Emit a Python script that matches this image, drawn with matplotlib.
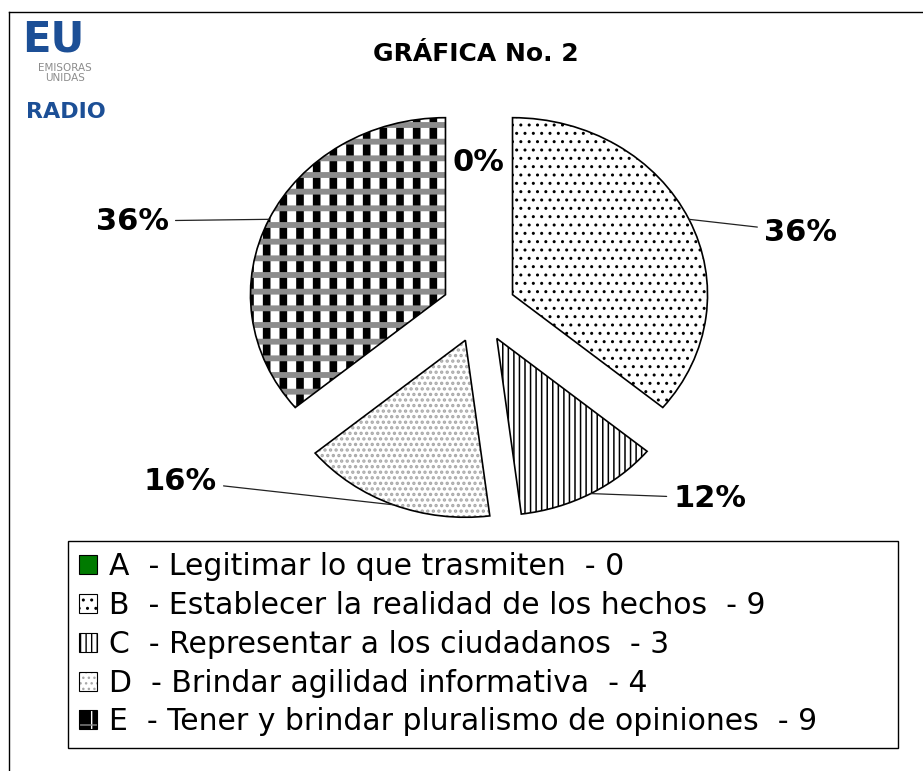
import matplotlib
matplotlib.use('Agg')
import matplotlib.pyplot as plt
from matplotlib.patches import Wedge, Patch
from matplotlib.lines import Line2D
from matplotlib.legend_handler import HandlerTuple
import numpy as np

# ---------------- data ----------------
title = 'GRÁFICA No. 2'
categories = ['A', 'B', 'C', 'D', 'E']
descriptions = ['Legitimar lo que trasmiten',
                'Establecer la realidad de los hechos',
                'Representar a los ciudadanos',
                'Brindar agilidad informativa',
                'Tener y brindar pluralismo de opiniones']
counts = [0, 9, 3, 4, 9]

# ---------------- layout / style ----------------
W, H = 923, 771
CX, CY = 479, 309          # pie centre (px)
RX, RY = 195, 177          # radius in px (horizontal / vertical)
EXPLODE = 0.19

# label positions in axis units (pie radius = 1)
label_pos = [(-0.005, 0.83), (1.65, 0.435), (1.185, -1.068),
             (-1.533, -0.972), (-1.779, 0.497)]
leader = [False, True, True, True, True]

# layer styles per slice: (base facecolor, [(hatch, color, hatch lw), ...])
styles = [
    ('#007a00', []),
    ('white', [('..', 'black', 1.0)]),
    ('white', [('|||', 'black', 1.1)]),
    ('white', [('...', '#a8a8a8', 1.6)]),
    ('black', [('|', 'white', 6.5), ('-', '#8c8c8c', 4.2)]),
]

fig = plt.figure(figsize=(W / 100, H / 100), dpi=100)
ax = fig.add_axes([0, 0, 1, 1])

total = sum(counts)
wedges, _ = ax.pie(counts, explode=[EXPLODE] * len(counts), startangle=90,
                   counterclock=False, radius=1, center=(0, 0),
                   wedgeprops=dict(facecolor='none', edgecolor='black',
                                   linewidth=1.2))
ax.set_aspect('auto')
ax.set_xlim(-CX / RX, (W - CX) / RX)
ax.set_ylim(-(H - CY) / RY, CY / RY)
ax.axis('off')


def make_layer(w, face, hatch, color, hlw, z):
    with plt.rc_context({'hatch.linewidth': hlw}):
        p = Wedge(w.center, w.r, w.theta1, w.theta2,
                  facecolor=face, edgecolor=color, linewidth=0,
                  hatch=hatch, zorder=z)
    if hasattr(p, 'set_hatch_linewidth'):
        p.set_hatch_linewidth(hlw)
    return p


def make_proxy(face, hatch, color, hlw, lw=0):
    with plt.rc_context({'hatch.linewidth': hlw}):
        p = Patch(facecolor=face, edgecolor=color, linewidth=lw, hatch=hatch)
    if hasattr(p, 'set_hatch_linewidth'):
        p.set_hatch_linewidth(hlw)
    return p


handles = []
for i, w in enumerate(wedges):
    base, layers = styles[i]
    if counts[i] == 0:
        w.set_visible(False)
    else:
        w.set_zorder(5)
        ax.add_patch(make_layer(w, base, None, 'none', 1.0, 1))
        for k, (h, c, hlw) in enumerate(layers):
            ax.add_patch(make_layer(w, 'none', h, c, hlw, 2 + k))
    # legend proxies
    parts = [make_proxy(base, None, 'none', 1.0)]
    for (h, c, hlw) in layers:
        parts.append(make_proxy('none', h, c, hlw))
    parts.append(Patch(facecolor='none', edgecolor='black', linewidth=0.8))
    handles.append(tuple(parts))

# percentage labels with leader lines to slice midpoints
for i, w in enumerate(wedges):
    pct = '%d%%' % round(100 * counts[i] / total)
    mid = np.deg2rad((w.theta1 + w.theta2) / 2)
    cx0, cy0 = w.center
    xy = (cx0 + np.cos(mid), cy0 + np.sin(mid))
    if leader[i]:
        ax.annotate(pct, xy=xy, xytext=label_pos[i], ha='center', va='center',
                    fontsize=22, fontweight='bold', color='black',
                    arrowprops=dict(arrowstyle='-', color='#222222', lw=0.9,
                                    shrinkA=3, shrinkB=0), zorder=10)
    else:
        ax.text(*label_pos[i], pct, ha='center', va='center', fontsize=22,
                fontweight='bold', color='black', zorder=10)

# title
fig.text(476 / W, 1 - 54 / H, title, ha='center', va='center', fontsize=18,
         fontweight='bold', color='black')

# legend
labels = ['%s  - %s  - %d' % (c, d, n) for c, d, n in zip(categories, descriptions, counts)]
leg = fig.legend(handles, labels, loc='upper left',
                 bbox_to_anchor=(68 / W, 1 - 541 / H, (898 - 68) / W, 0),
                 mode='expand', borderaxespad=0, fontsize=21.5,
                 handler_map={tuple: HandlerTuple(ndivide=1, pad=0)},
                 handlelength=0.6, handleheight=0.6, handletextpad=0.4,
                 labelspacing=0.33, borderpad=0.37, fancybox=False,
                 framealpha=1, edgecolor='black')
leg.get_frame().set_linewidth(1.0)

# outer frame (left and top edges)
fig.add_artist(Line2D([9 / W, 9 / W], [0, 1 - 12 / H], transform=fig.transFigure,
                      color='black', lw=1.0))
fig.add_artist(Line2D([9 / W, 1], [1 - 12 / H, 1 - 12 / H], transform=fig.transFigure,
                      color='black', lw=1.0))

# logo
blue = '#1c4f96'
fig.text(22 / W, 1 - 51 / H, 'EU', ha='left', va='baseline', fontsize=30,
         fontweight='bold', color=blue)
fig.text(65 / W, 1 - 68 / H, 'EMISORAS', ha='center', va='center', fontsize=7.5,
         color='#8c8c8c')
fig.text(65 / W, 1 - 78 / H, 'UNIDAS', ha='center', va='center', fontsize=7.5,
         color='#8c8c8c')
fig.text(26 / W, 1 - 118 / H, 'RADIO', ha='left', va='baseline', fontsize=16,
         fontweight='bold', color=blue)

fig.savefig('out.png', dpi=100, facecolor='white')
